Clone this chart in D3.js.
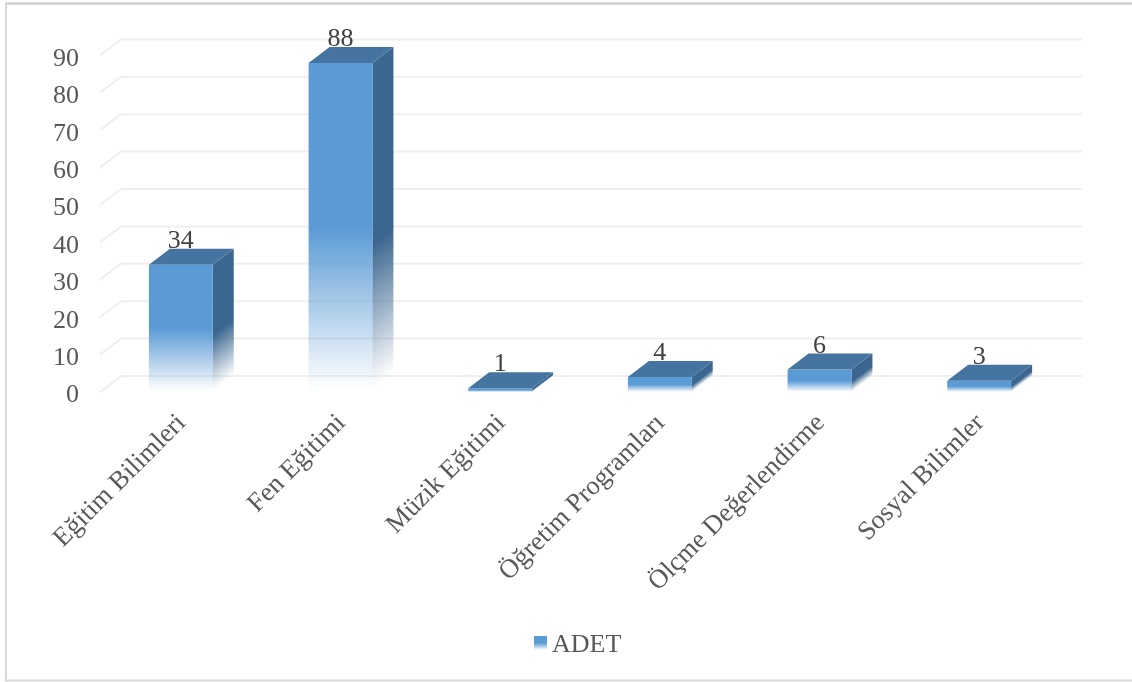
<!DOCTYPE html>
<html><head><meta charset="utf-8">
<script src="https://cdn.jsdelivr.net/npm/d3@7"></script>
<style>html,body{margin:0;background:#fff}svg{display:block;filter:blur(.45px)}text{font-family:"Liberation Serif",serif}</style>
</head><body><svg id="c" width="1132" height="682"></svg>
<script>
const categories=["Eğitim Bilimleri","Fen Eğitimi","Müzik Eğitimi","Öğretim Programları","Ölçme Değerlendirme","Sosyal Bilimler"];
const values=[34,88,1,4,6,3];
const yTicks=[0,10,20,30,40,50,60,70,80,90];
const seriesName="ADET";
const depthX=21,depthY=16;
const svg=d3.select("#c");
const x=d3.scaleBand().domain(categories).range([101,1059]).paddingInner(.6).paddingOuter(.3);
const y=d3.scaleLinear().domain([0,90]).range([392,55.4]);
svg.append("path").attr("fill","none").attr("stroke","#d9d9d9").attr("stroke-width",2).attr("d","M1132,3.5H6V680.5H1132");
svg.append("path").attr("fill","none").attr("stroke","#d0d0d0").attr("stroke-width",2).attr("d","M6,3.5H1132");
const defs=svg.append("defs");
function stops(g,col,stop){
 g.append("stop").attr("offset",0).attr("stop-color",col);
 g.append("stop").attr("offset",stop).attr("stop-color",col);
 g.append("stop").attr("offset",.97).attr("stop-color",col).attr("stop-opacity",.04);
 g.append("stop").attr("offset",1).attr("stop-color",col).attr("stop-opacity",0);}
function grad(id,col,stop){stops(defs.append("linearGradient").attr("id",id).attr("x1",0).attr("x2",0).attr("y1",0).attr("y2",1),col,stop);}
grad("front","#5b9bd5",.5);grad("leg","#5b9bd5",.5);
// grid
svg.append("g").selectAll("path").data(yTicks).join("path")
 .attr("fill","none").attr("stroke","#efefef").attr("stroke-width",2)
 .attr("d",d=>`M100,${y(d)}L${100+depthX},${y(d)-depthY}H1082`);
// y axis
const ya=svg.append("g").attr("transform","translate(79,1.5)").call(d3.axisLeft(y).tickValues(yTicks).tickSize(0).tickPadding(0));
ya.select(".domain").remove();
ya.selectAll("text").attr("font-size",26).attr("fill","#595959");
// x axis
const xa=svg.append("g").attr("transform","translate(0,392)").call(d3.axisBottom(x).tickSize(0));
xa.select(".domain").remove();
xa.selectAll("text").attr("font-size",26.6).attr("fill","#595959")
 .attr("text-anchor","end").attr("dx",0).attr("dy",0).attr("y",0)
 .attr("transform","translate(6,32) rotate(-45)");
// bars
const bars=svg.append("g").selectAll("g").data(categories.map((c,i)=>({c,v:values[i],i}))).join("g");
const bw=x.bandwidth();
const norm=Math.hypot(depthX,depthY);
bars.each(function(d){
 const a=x(d.c)+bw,t=y(d.v),b=y(0),s=(b-t)*depthX/norm;
 stops(defs.append("linearGradient").attr("id","side"+d.i).attr("gradientUnits","userSpaceOnUse")
  .attr("x1",a).attr("y1",t).attr("x2",a+s*depthY/norm).attr("y2",t+s*depthX/norm),"#3a6690",.55);
});
bars.append("polygon").attr("fill",d=>`url(#side${d.i})`).attr("points",d=>{const a=x(d.c)+bw,t=y(d.v),b=y(0);return [[a,t],[a+depthX,t-depthY],[a+depthX,b-depthY],[a,b]].join(" ");});
bars.append("rect").attr("fill","url(#front)").attr("x",d=>x(d.c)).attr("y",d=>y(d.v)).attr("width",bw).attr("height",d=>y(0)-y(d.v));
bars.append("polygon").attr("fill","#44749f").attr("points",d=>{const a=x(d.c),t=y(d.v);return [[a,t],[a+depthX,t-depthY],[a+bw+depthX,t-depthY],[a+bw,t]].join(" ");});
bars.append("text").attr("x",d=>x(d.c)+bw/2).attr("y",d=>y(d.v)-depthY-1).attr("text-anchor","middle").attr("font-size",26).attr("fill","#404040").text(d=>d.v);
// legend
svg.append("rect").attr("x",534).attr("y",636).attr("width",13).attr("height",14).attr("fill","url(#leg)");
svg.append("text").attr("x",552).attr("y",652).attr("font-size",26).attr("fill","#595959").text(seriesName);
</script></body></html>
